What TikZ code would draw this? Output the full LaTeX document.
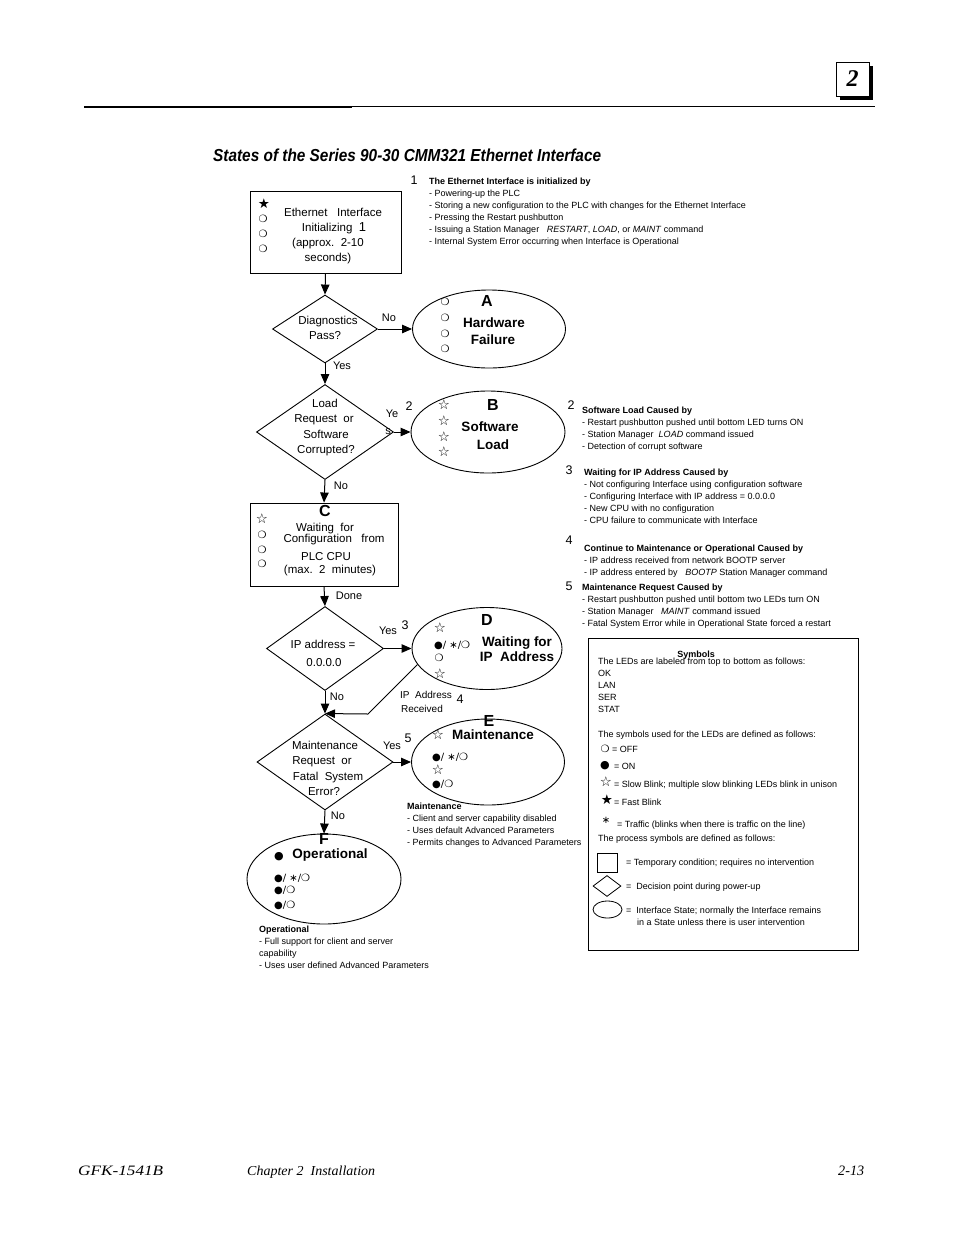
\documentclass[tikz,border=0pt]{standalone}
\usepackage{fontspec}
\usepackage{graphicx}
\setmainfont{Liberation Sans}
\newfontfamily\serif{Liberation Serif}
\newfontfamily\sym{DejaVu Sans}
\usetikzlibrary{shapes.geometric,arrows.meta}
\newcommand\fs[2]{\fontsize{#1}{#2}\selectfont}
\begin{document}
\begin{tikzpicture}[x=1pt,y=-1pt,
  arr/.style={line width=1pt,-{Triangle[length=10pt,width=8.5pt]}},
  boxst/.style={draw,line width=0.9pt,inner sep=0},
  dia/.style={draw,diamond,line width=0.9pt,inner sep=0},
  ell/.style={draw,ellipse,line width=0.9pt,inner sep=0},
  tl/.style={font=\fs{11.5}{14},inner sep=0,text height=8.2pt,text depth=0pt},
  lab/.style={font=\fs{11}{13},inner sep=0,text height=8pt,text depth=0pt},
  bigl/.style={font=\bfseries\fs{16}{16},inner sep=0,text height=11.5pt,text depth=0pt},
  stn/.style={font=\bfseries\fs{13.5}{16},inner sep=0,text height=9.7pt,text depth=0pt},
  note/.style={font=\fs{9}{12},align=left,anchor=north west,inner sep=0},
  num/.style={font=\fs{12.5}{13},inner sep=0,text height=9pt,text depth=0pt},
  led/.style={font=\sym\fs{10}{10},inner sep=0,text height=7pt,text depth=0pt},
  star/.style={font=\sym\fs{13.5}{13.5},inner sep=0,text height=9pt,text depth=0pt},
  ledl/.style={led,anchor=west},
  sm/.style={font=\fs{9}{12},inner sep=0,anchor=west,text height=6.5pt,text depth=0pt},
]
\useasboundingbox (0,0) rectangle (954,1235);

% ---------- header ----------
\fill (839.5,65.5) rectangle (872.5,99.5);
\node[draw,fill=white,line width=0.8pt,minimum width=33pt,minimum height=34pt,inner sep=0] (chapbox) at (852.5,79) {};
\node[font=\serif\bfseries\itshape\fs{24}{24},inner sep=0] (chapnum) at (852.5,79) {2};
\draw[line width=1.2pt] (84,106.5) -- (875,106.5);
\draw[line width=2pt] (84,106.5) -- (352,106.5);

% ---------- title ----------
\node[anchor=base west,inner sep=0] (title) at (213,161)
  {\resizebox{388pt}{12.6pt}{\bfseries\itshape States of the Series 90-30 CMM321 Ethernet Interface}};

% ---------- flow shapes ----------
\node[boxst,minimum width=151pt,minimum height=82pt] (init) at (325.5,232) {};
\node[dia,minimum width=105pt,minimum height=68pt] (d1) at (325,329) {};
\node[ell,minimum width=153pt,minimum height=78pt] (A) at (489,329) {};
\node[dia,minimum width=137pt,minimum height=95pt] (d2) at (325,432) {};
\node[ell,minimum width=154pt,minimum height=82pt] (B) at (488,432) {};
\node[boxst,minimum width=148pt,minimum height=83pt] (C) at (324,544.5) {};
\node[dia,minimum width=117pt,minimum height=84pt] (d3) at (325,648.5) {};
\node[ell,minimum width=150pt,minimum height=82pt] (D) at (487,648.5) {};
\node[dia,minimum width=136pt,minimum height=96pt] (d4) at (325,762) {};
\node[ell,minimum width=153pt,minimum height=86pt] (E) at (488,762) {};
\node[ell,minimum width=154pt,minimum height=90pt] (F) at (324,879) {};
\coordinate (bend) at (368,714);

% ---------- connectors ----------
\draw[arr] (init.south) -- (d1.north);
\draw[arr] (d1.east) -- (A.west);
\draw[arr] (d1.south) -- (d2.north);
\draw[arr] (d2.east) -- (B.west);
\draw[arr] (d2.south) -- (C.north);
\draw[arr] (C.south) -- (d3.north);
\draw[arr] (d3.east) -- (D.west);
\draw[arr] (d3.south) -- (d4.north);
\draw[arr] (D.193) -- (bend) -- (d4.north);
\draw[arr] (d4.east) -- (E.west);
\draw[arr] (d4.south) -- (F.north);

% ---------- connector labels ----------
\node[lab] (lno1) at (389,317) {No};
\node[lab] (lyes1) at (342,365) {Yes};
\node[lab] (lye2) at (392,413) {Ye};
\node[lab] (ls2) at (388,430) {s};
\node[num] (n2a) at (409,406) {2};
\node[lab] (lno2) at (341,485) {No};
\node[lab] (ldone) at (349,595) {Done};
\node[lab] (lyes3) at (388,630) {Yes};
\node[num] (n3a) at (405,625) {3};
\node[lab] (lno3) at (337,696) {No};
\node[lab,font=\fs{10}{12}] (lip) at (426,694) {IP\ \ Address};
\node[lab,font=\fs{10}{12}] (lrec) at (422,708) {Received};
\node[num] (n4a) at (460,699) {4};
\node[lab] (lyes4) at (392,745) {Yes};
\node[num] (n5a) at (408,738) {5};
\node[lab] (lno4) at (338,815) {No};

% ---------- init box ----------
\node[star] (i1) at (264,204) {★};
\node[led] (i2) at (263,219) {❍};
\node[led] (i3) at (263,234) {❍};
\node[led] (i4) at (263,249) {❍};
\node[tl] (it1) at (333,212) {Ethernet\ \ \ Interface};
\node[tl] (it2) at (334,227) {Initializing\ \ {\fs{13}{14}1}};
\node[tl] (it3) at (328,242) {(approx.\ \ 2-10};
\node[tl] (it4) at (328,257) {seconds)};

% ---------- d1 ----------
\node[tl] (d1t1) at (328,320) {Diagnostics};
\node[tl] (d1t2) at (325,335) {Pass?};

% ---------- A ----------
\node[bigl] (Al) at (487,301) {A};
\node[led] (a1) at (445,302) {❍};
\node[led] (a2) at (445,318) {❍};
\node[led] (a3) at (445,334) {❍};
\node[led] (a4) at (445,349) {❍};
\node[stn] (At1) at (494,323) {Hardware};
\node[stn] (At2) at (493,340) {Failure};

% ---------- d2 ----------
\node[tl] (d2t1) at (325,403) {Load};
\node[tl] (d2t2) at (324,418) {Request\ \ or};
\node[tl] (d2t3) at (326,434) {Software};
\node[tl] (d2t4) at (326,449) {Corrupted?};

% ---------- B ----------
\node[bigl] (Bl) at (493,405) {B};
\node[star] (b1) at (444,405) {☆};
\node[star] (b2) at (444,421) {☆};
\node[star] (b3) at (444,437) {☆};
\node[star] (b4) at (444,452) {☆};
\node[stn] (Bt1) at (490,427) {Software};
\node[stn] (Bt2) at (493,445) {Load};

% ---------- C ----------
\node[bigl] (Cl) at (325,511) {C};
\node[star] (c1) at (262,519) {☆};
\node[led] (c2) at (262,535) {❍};
\node[led] (c3) at (262,550) {❍};
\node[led] (c4) at (262,564) {❍};
\node[tl] (Ct1) at (325,527) {Waiting\ \ for};
\node[tl] (Ct2) at (334,538) {Configuration\ \ \ from};
\node[tl] (Ct3) at (326,556) {PLC CPU};
\node[tl] (Ct4) at (330,569) {(max.\ \ 2\ \ minutes)};

% ---------- d3 ----------
\node[tl] (d3t1) at (323,644) {IP address =};
\node[tl] (d3t2) at (324,662) {0.0.0.0};

% ---------- D ----------
\node[bigl] (Dl) at (487,620) {D};
\node[star] (dd1) at (440,628) {☆};
\node[ledl] (dd2) at (434,645) {●/ ∗/❍};
\node[led] (dd3) at (439,658) {❍};
\node[star] (dd4) at (440,674) {☆};
\node[stn] (Dt1) at (517,642) {Waiting for};
\node[stn] (Dt2) at (517,657) {IP\ \ Address};

% ---------- d4 ----------
\node[tl] (d4t1) at (325,745) {Maintenance};
\node[tl] (d4t2) at (322,760) {Request\ \ or};
\node[tl] (d4t3) at (328,776) {Fatal\ \ System};
\node[tl] (d4t4) at (324,791) {Error?};

% ---------- E ----------
\node[bigl] (El) at (489,721) {E};
\node[star] (e1) at (438,735) {☆};
\node[stn] (Et1) at (493,735) {Maintenance};
\node[ledl] (e2) at (432,757) {●/ ∗/❍};
\node[star] (e3) at (438,770) {☆};
\node[ledl] (e4) at (432,784) {●/❍};

% ---------- F ----------
\node[bigl] (Fl) at (324,839) {F};
\node[led,font=\sym\fs{11}{11}] (f1) at (279,856) {●};
\node[stn] (Ft1) at (330,854) {Operational};
\node[ledl] (f2) at (274,878) {●/ ∗/❍};
\node[ledl] (f3) at (274,890) {●/❍};
\node[ledl] (f4) at (274,905) {●/❍};

% ---------- notes ----------
\node[num] (nn1) at (414,180) {1};
\node[note] (note1) at (429,178) {\textbf{The Ethernet Interface is initialized by}\\
- Powering-up the PLC\\
- Storing a new configuration to the PLC with changes for the Ethernet Interface\\
- Pressing the Restart pushbutton\\
- Issuing a Station Manager\ \ \ \textit{RESTART}, \textit{LOAD}, or \textit{MAINT} command\\
- Internal System Error occurring when Interface is Operational};

\node[num] (nn2) at (571,405) {2};
\node[note] (note2) at (582,407) {\textbf{Software Load Caused by}\\
- Restart pushbutton pushed until bottom LED turns ON\\
- Station Manager\ \ \textit{LOAD} command issued\\
- Detection of corrupt software};

\node[num] (nn3) at (569,470) {3};
\node[note] (note3) at (584,469) {\textbf{Waiting for IP Address Caused by}\\
- Not configuring Interface using configuration software\\
- Configuring Interface with IP address = 0.0.0.0\\
- New CPU with no configuration\\
- CPU failure to communicate with Interface};

\node[num] (nn4) at (569,540) {4};
\node[note] (note4) at (584,545) {\textbf{Continue to Maintenance or Operational Caused by}\\
- IP address received from network BOOTP server\\
- IP address entered by\ \ \ \textit{BOOTP}\ Station Manager command};

\node[num] (nn5) at (569,586) {5};
\node[note] (note5) at (582,584) {\textbf{Maintenance Request Caused by}\\
- Restart pushbutton pushed until bottom two LEDs turn ON\\
- Station Manager\ \ \ \textit{MAINT} command issued\\
- Fatal System Error while in Operational State forced a restart};

\node[note] (noteE) at (407,803) {\textbf{Maintenance}\\
- Client and server capability disabled\\
- Uses default Advanced Parameters\\
- Permits changes to Advanced Parameters};

\node[note] (noteF) at (259,926) {\textbf{Operational}\\
- Full support for client and server\\
capability\\
- Uses user defined Advanced Parameters};

% ---------- symbols legend ----------
\draw[line width=0.8pt] (588,638) rectangle (858,950);
\node[font=\bfseries\fs{9}{12},inner sep=0] (symt) at (696,655) {Symbols};
\node[note] (leds) at (598,658) {The LEDs are labeled from top to bottom as follows:\\OK\\LAN\\SER\\STAT};
\node[sm] (sy0) at (598,734) {The symbols used for the LEDs are defined as follows:};
\node[led] (sy1s) at (605,749) {❍};
\node[sm] (sy1) at (612,749) {= OFF};
\node[led,font=\sym\fs{11}{11}] (sy2s) at (605,765) {●};
\node[sm] (sy2) at (614,766) {= ON};
\node[star] (sy3s) at (606,782) {☆};
\node[sm] (sy3) at (614,784) {= Slow Blink; multiple slow blinking LEDs blink in unison};
\node[star] (sy4s) at (607,800) {★};
\node[sm] (sy4) at (614,802) {= Fast Blink};
\node[led] (sy5s) at (606,820) {∗};
\node[sm] (sy5) at (617,824) {= Traffic (blinks when there is traffic on the line)};
\node[sm] (sy6) at (598,838) {The process symbols are defined as follows:};
\node[boxst,line width=0.8pt,minimum width=20pt,minimum height=19pt] (lgbox) at (607,862.5) {};
\node[sm] (lgboxt) at (626,862) {= Temporary condition; requires no intervention};
\node[dia,line width=0.8pt,minimum width=28pt,minimum height=21pt] (lgdia) at (607,886) {};
\node[sm] (lgdiat) at (626,886) {=\ \ Decision point during power-up};
\node[ell,line width=0.8pt,minimum width=29pt,minimum height=17pt] (lgell) at (607.5,909.5) {};
\node[sm] (lgellt) at (626,910) {=\ \ Interface State; normally the Interface remains};
\node[sm] (lgellt2) at (637,922) {in a State unless there is user intervention};

% ---------- footer ----------
\node[anchor=base west,inner sep=0] (ft1) at (78,1175) {\resizebox{85pt}{9.5pt}{\serif\itshape GFK-1541B}};
\node[anchor=base west,inner sep=0] (ft2) at (247,1175) {\resizebox{128pt}{9.5pt}{\serif\itshape Chapter 2\ \ Installation}};
\node[anchor=base west,inner sep=0] (ft3) at (838,1175) {\resizebox{26pt}{9.5pt}{\serif\itshape 2-13}};
\end{tikzpicture}
\end{document}
